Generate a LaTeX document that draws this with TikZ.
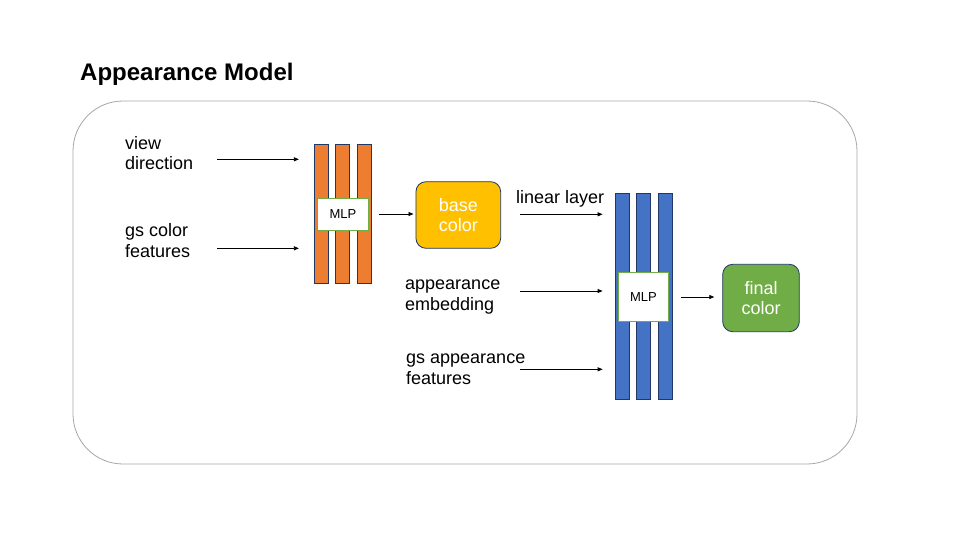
\documentclass[tikz,border=0pt]{standalone}
\usepackage{fontspec}
\setmainfont{Liberation Sans}
\usepackage{xcolor}
\usetikzlibrary{arrows.meta}
\definecolor{barorange}{RGB}{237,125,49}
\definecolor{barblue}{RGB}{68,114,196}
\definecolor{edgenavy}{RGB}{32,56,100}
\definecolor{mlpgreen}{RGB}{112,173,71}
\definecolor{basegold}{RGB}{255,192,0}
\definecolor{framegrey}{RGB}{166,166,166}
\tikzset{
  inlabel/.style={align=left, anchor=base west, inner sep=0pt, font=\fontsize{18}{20.7}\selectfont},
  layerbar/.style={draw=edgenavy, line width=0.8pt, minimum width=14pt},
  mlpbox/.style={draw=mlpgreen, fill=white, line width=0.8pt, font=\fontsize{13}{15}\selectfont},
  colorbox/.style={draw=edgenavy, line width=0.8pt, rounded corners=10pt, align=center,
    text=white, font=\fontsize{18}{20.7}\selectfont},
  arr/.style={-{Triangle[length=5pt,width=4pt]}, line width=0.8pt}
}

\begin{document}
\begin{tikzpicture}[x=1pt, y=-1pt]
\useasboundingbox (0,0) rectangle (960,540);
\node[anchor=base west, inner sep=0pt, font=\fontsize{24}{28}\selectfont\bfseries] (title) at (80,81) {Appearance Model};
\draw[framegrey, line width=0.8pt, rounded corners=50pt] (73,101) rectangle (857,464);

% first MLP
\foreach \i/\x in {1/321.3, 2/342.3, 3/364.3}
  \node[layerbar, fill=barorange, minimum height=139pt] (ob\i) at (\x,213.8) {};
\node[mlpbox, minimum width=51pt, minimum height=32pt] (mlpa) at (343,214) {MLP};
\node[colorbox, fill=basegold, minimum width=84.7pt, minimum height=66.6pt] (base) at (458.3,215) {base\\color};

% second MLP
\foreach \i/\x in {1/622, 2/643.5, 3/665.5}
  \node[layerbar, fill=barblue, minimum height=206pt] (bb\i) at (\x,296.3) {};
\node[mlpbox, minimum width=50pt, minimum height=49pt] (mlpb) at (643.5,297) {MLP};
\node[colorbox, fill=mlpgreen, minimum width=76.6pt, minimum height=67.4pt] (final) at (761,298) {final\\color};

% inputs
\node[inlabel] (view) at (125,170) {view\\direction};
\node[inlabel] (gscol) at (125,257) {gs color\\features};
\node[inlabel] (linear) at (516,203) {linear layer};
\node[inlabel] (embed) at (405,310) {appearance\\embedding};
\node[inlabel] (gsapp) at (406,384) {gs appearance\\features};

\coordinate (inview) at (217,159.3);
\coordinate (ingscol) at (217,248.3);
\coordinate (inlinear) at (520,214.3);
\coordinate (inembed) at (520,291);
\coordinate (ingsapp) at (520,369.3);

\draw[arr, shorten >=15pt] (inview) -- (inview -| ob1.west);
\draw[arr, shorten >=15pt] (ingscol) -- (ingscol -| ob1.west);
\draw[arr, shorten >=12pt] (inlinear) -- (inlinear -| bb1.west);
\draw[arr, shorten >=12pt] (inembed) -- (inembed -| bb1.west);
\draw[arr, shorten >=12pt] (ingsapp) -- (ingsapp -| bb1.west);
\draw[arr, shorten <=10pt, shorten >=2pt] (mlpa.east) -- (base.west |- mlpa.east);
\draw[arr, shorten <=12pt, shorten >=8pt] (mlpb.east) -- (final.west |- mlpb.east);
\end{tikzpicture}
\end{document}
